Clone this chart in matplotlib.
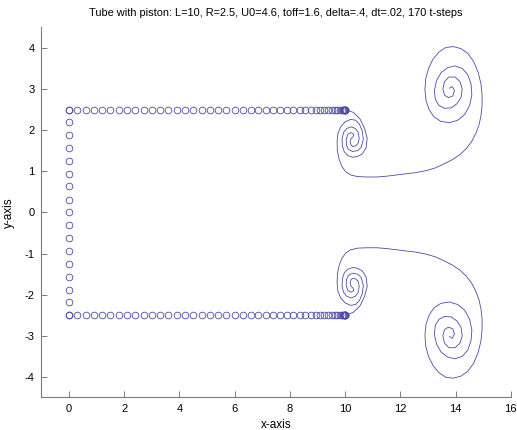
import matplotlib
matplotlib.use("Agg")
import matplotlib.pyplot as plt

plt.rcParams['font.family'] = ['Liberation Sans', 'DejaVu Sans']
plt.rcParams['axes.unicode_minus'] = False

# tube wall points (circles)
wall_top_x = [0, 0.3, 0.6, 0.9, 1.2, 1.5, 1.8, 2.1, 2.4, 2.7, 3.0, 3.3, 3.6, 3.9,
              4.2, 4.5, 4.8, 5.1, 5.4, 5.7, 6.0, 6.3, 6.58, 6.86, 7.13, 7.4, 7.66,
              7.9, 8.13, 8.35, 8.56, 8.75, 8.93, 9.1, 9.25, 9.39, 9.51, 9.62, 9.72,
              9.8, 9.87, 9.92, 9.955, 9.975, 9.985, 9.992, 9.996, 9.999, 10.0]
wall_left_y = [-2.5, -2.19, -1.88, -1.56, -1.25, -0.94, -0.63, -0.31, 0,
               0.31, 0.63, 0.94, 1.25, 1.56, 1.88, 2.19, 2.5]
R = 2.5

# vortex sheet, lower half: edge -> small spiral -> long arm -> big spiral core
sheet_x = [10.00, 10.30, 10.54, 10.70, 10.80, 10.76, 10.62, 10.45, 10.28, 10.10,
           9.97, 9.90, 9.89, 9.95, 10.06, 10.22, 10.37, 10.47, 10.51, 10.47,
           10.39, 10.28, 10.21, 10.18, 10.22, 10.29, 10.31,
           10.22, 10.10, 10.04, 10.05, 10.12, 10.27, 10.45, 10.58, 10.66, 10.62,
           10.52, 10.38, 10.20, 10.00, 9.84, 9.74, 9.71, 9.72, 9.78, 9.88,
           10.02, 10.20, 10.45, 10.79,
           11.15, 11.51, 11.87, 12.23, 12.60, 12.96, 13.26, 13.56, 13.88, 14.17,
           14.40, 14.59, 14.74, 14.85, 14.92, 14.96, 14.96,
           14.92, 14.82, 14.66, 14.45, 14.20, 13.92, 13.65, 13.40, 13.18, 13.02,
           12.92, 12.89, 12.93, 13.04, 13.22, 13.47, 13.78, 14.08, 14.33, 14.51,
           14.59, 14.56, 14.44, 14.24, 13.98, 13.72, 13.48, 13.31, 13.23, 13.27,
           13.40, 13.60, 13.84, 14.05, 14.20, 14.24, 14.16, 13.98, 13.76, 13.60,
           13.54, 13.60, 13.74, 13.90, 13.96, 13.88, 13.78]
sheet_y = [-2.50, -2.43, -2.27, -2.05, -1.80, -1.57, -1.42, -1.36, -1.34, -1.38,
           -1.47, -1.62, -1.80, -1.95, -2.04, -2.08, -2.04, -1.95, -1.80, -1.68,
           -1.62, -1.60, -1.64, -1.72, -1.80, -1.84, -1.90,
           -1.94, -1.90, -1.78, -1.63, -1.53, -1.48, -1.50, -1.58, -1.78, -1.98,
           -2.14, -2.24, -2.26, -2.20, -2.08, -1.92, -1.72, -1.50, -1.30, -1.12,
           -0.99, -0.91, -0.87, -0.86,
           -0.86, -0.88, -0.91, -0.94, -0.97, -1.02, -1.08, -1.17, -1.28, -1.41,
           -1.56, -1.73, -1.93, -2.13, -2.35, -2.60, -2.85,
           -3.12, -3.40, -3.66, -3.86, -3.98, -4.03, -4.01, -3.90, -3.72, -3.50,
           -3.25, -2.98, -2.72, -2.50, -2.32, -2.21, -2.18, -2.24, -2.38, -2.60,
           -2.86, -3.12, -3.35, -3.50, -3.56, -3.52, -3.40, -3.20, -2.96, -2.74,
           -2.60, -2.53, -2.54, -2.64, -2.80, -3.00, -3.18, -3.29, -3.29, -3.18,
           -3.00, -2.85, -2.79, -2.83, -2.96, -3.06, -3.02]

col = '#4b4ba6'

fig = plt.figure(figsize=(5.17, 4.30), dpi=100, facecolor='white')
ax = fig.add_axes([0.080, 0.0756, 0.908, 0.861])

# walls
mk = dict(marker='o', ls='none', mfc='none', mec=col, ms=4.8, mew=0.6)
ax.plot(wall_top_x, [R] * len(wall_top_x), **mk)
ax.plot(wall_top_x, [-R] * len(wall_top_x), **mk)
ax.plot([0] * len(wall_left_y), wall_left_y, **mk)

# vortex sheets (upper one is the mirror image)
ax.plot(sheet_x, sheet_y, '-', color=col, lw=0.6)
ax.plot(sheet_x, [-v for v in sheet_y], '-', color=col, lw=0.6)

ax.set_xlim(-1, 16)
ax.set_ylim(-4.5, 4.5)
ax.set_xticks(range(0, 17, 2))
ax.set_yticks(range(-4, 5))
ax.spines['top'].set_visible(False)
ax.spines['right'].set_visible(False)
for s in ['left', 'bottom']:
    ax.spines[s].set_color('#7a7a7a')
    ax.spines[s].set_linewidth(0.8)
ax.tick_params(direction='in', length=4, width=0.7, color='#7a7a7a', labelsize=8, pad=5)
ax.set_xlabel('x-axis', fontsize=8.5, labelpad=3)
ax.set_ylabel('y-axis', fontsize=8.5, labelpad=7)
ax.set_title('Tube with piston: L=10, R=2.5, U0=4.6, toff=1.6, delta=.4, dt=.02, 170 t-steps',
             fontsize=7.9, pad=8)

plt.savefig('out.png', dpi=100)
